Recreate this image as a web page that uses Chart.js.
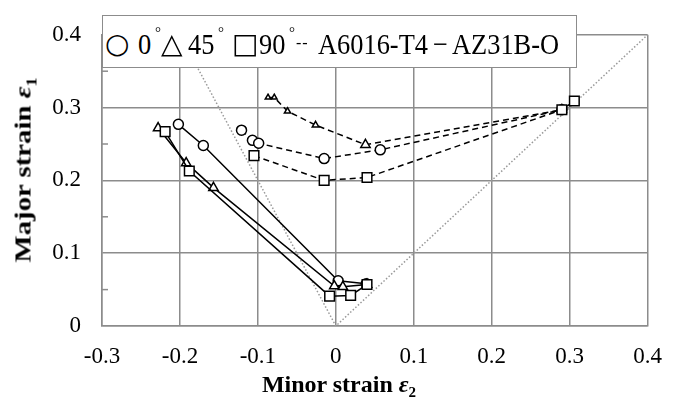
<!DOCTYPE html>
<html>
<head>
<meta charset="utf-8">
<script src="https://cdn.jsdelivr.net/npm/chart.js@4"></script>
<style>
  body { margin: 0; background: #fff; }
  #wrap { position: relative; width: 679px; height: 399px; font-family: "Liberation Serif", "Times New Roman", serif; color: #000; }
  #legend {
    position: absolute; left: 102px; top: 15px; width: 475px; height: 53px;
    box-sizing: border-box; border: 1.5px solid #8c8c8c; background: #fff; z-index: 2;
  }
  #legend span { position: absolute; top: 6px; font-size: 30px; line-height: 44px; white-space: nowrap; transform-origin: left center; }
  #legend .txt { transform: scaleX(0.88); }
  #legend .sym { font-family: "DejaVu Sans", sans-serif; font-size: 28px; top: 6px; }
  #legend .deg { font-size: 15px; top: -6px; }
  #legend .dash { font-size: 16px; top: 5px; letter-spacing: 1px; }
  .axis-title { position: absolute; font-weight: bold; font-size: 24px; white-space: nowrap; z-index: 2; }
  .axis-title sub { font-size: 15px; line-height: 0; }
  #xtitle { left: 339px; top: 384px; transform: translate(-50%, -50%); }
  #ytitle { left: 23px; top: 170px; transform: translate(-50%, -50%) rotate(-90deg) scaleX(1.2); }
</style>
</head>
<body>
<div id="wrap">
  <canvas id="grafica"></canvas>
  <div id="legend">
    <span class="sym" style="left:2px">○</span>
    <span class="txt" style="left:35px">0</span>
    <span class="deg" style="left:52px">°</span>
    <span class="sym" style="left:58px">△</span>
    <span class="txt" style="left:85px">45</span>
    <span class="deg" style="left:115px">°</span>
    <span class="sym" style="left:129px">□</span>
    <span class="txt" style="left:156px">90</span>
    <span class="deg" style="left:186px">°</span>
    <span class="dash" style="left:193px">--</span>
    <span class="txt" style="left:215px">A6016-T4</span>
    <span class="txt" style="left:330px">−</span>
    <span class="txt" style="left:349px">AZ31B-O</span>
  </div>
  <div class="axis-title" id="xtitle">Minor strain <i>ε</i><sub>2</sub></div>
  <div class="axis-title" id="ytitle">Major strain <i>ε</i><sub>1</sub></div>
</div>
<script>
// ejes
const xTicks = [-0.3, -0.2, -0.1, 0, 0.1, 0.2, 0.3, 0.4];
const yTicks = [0, 0.1, 0.2, 0.3, 0.4];
const yMinorTicks = [0.05, 0.15, 0.25, 0.35];

// A6016-T4 (linea discontinua)
const a6016_0_e2 = [-0.121, -0.107, -0.099, -0.015, 0.057, 0.290];
const a6016_0_e1 = [0.269, 0.255, 0.251, 0.230, 0.242, 0.297];
const a6016_45_e2 = [-0.087, -0.079, -0.062, -0.026, 0.038, 0.290];
const a6016_45_e1 = [0.314, 0.314, 0.295, 0.276, 0.249, 0.297];
const a6016_90_e2 = [-0.105, -0.015, 0.040, 0.290, 0.306];
const a6016_90_e1 = [0.234, 0.200, 0.204, 0.297, 0.309];

// AZ31B-O (linea continua)
const az31_0_e2 = [-0.202, -0.170, 0.003, 0.039];
const az31_0_e1 = [0.277, 0.248, 0.062, 0.058];
const az31_45_e2 = [-0.228, -0.192, -0.157, -0.002, 0.009, 0.040];
const az31_45_e1 = [0.272, 0.224, 0.190, 0.055, 0.054, 0.057];
const az31_90_e2 = [-0.219, -0.188, -0.008, 0.019, 0.040];
const az31_90_e1 = [0.267, 0.213, 0.041, 0.042, 0.057];

// lineas de referencia (e1 = -2 e2, e1 = e2)
const refE2 = [-0.2, 0, 0.4];
const refE1 = [0.4, 0, 0.4];

const pts = (xs, ys) => xs.map((x, i) => ({ x: x, y: ys[i] }));
const GRIS = "#8c8c8c";
const FUENTE = "'Liberation Serif', 'Times New Roman', serif";

function serie(xs, ys, estilo, radio, discontinua) {
  return {
    data: pts(xs, ys),
    showLine: true,
    borderColor: "#000",
    borderWidth: 1.5,
    borderDash: discontinua ? [6, 4] : [],
    pointStyle: estilo,
    pointRadius: radio,
    pointBorderWidth: 1.5,
    pointBorderColor: "#000",
    pointBackgroundColor: "#fff",
    pointHoverRadius: radio
  };
}

// marcas menores hacia adentro en el eje Y
const minorTicks = {
  id: "minorTicks",
  beforeDatasetsDraw(chart) {
    const { ctx, chartArea, scales: { y } } = chart;
    ctx.save();
    ctx.strokeStyle = GRIS;
    ctx.lineWidth = 1.5;
    yMinorTicks.forEach(v => {
      const py = y.getPixelForValue(v);
      ctx.beginPath();
      ctx.moveTo(chartArea.left, py);
      ctx.lineTo(chartArea.left + 6, py);
      ctx.stroke();
    });
    ctx.restore();
  }
};

new Chart(document.getElementById("grafica"), {
  type: "scatter",
  data: {
    datasets: [
      serie(a6016_90_e2, a6016_90_e1, "rect", 6.8, true),
      serie(az31_90_e2, az31_90_e1, "rect", 6.8, false),
      serie(a6016_45_e2, a6016_45_e1, "triangle", [3.2, 3.2, 3.6, 3.8, 5.4, 5.4], true),
      serie(az31_45_e2, az31_45_e1, "triangle", 5.4, false),
      serie(a6016_0_e2, a6016_0_e1, "circle", 5, true),
      serie(az31_0_e2, az31_0_e1, "circle", 5, false),
      {
        data: pts(refE2, refE1),
        showLine: true,
        borderColor: "#999",
        borderWidth: 1.5,
        borderDash: [1.5, 2],
        pointRadius: 0
      }
    ]
  },
  options: {
    responsive: true,
    maintainAspectRatio: false,
    animation: false,
    layout: { padding: { top: 15, right: 31, left: 0, bottom: 0 } },
    plugins: { legend: { display: false }, tooltip: { enabled: false } },
    scales: {
      x: {
        type: "linear",
        min: -0.3,
        max: 0.4,
        afterBuildTicks: s => { s.ticks = xTicks.map(v => ({ value: v })); },
        afterFit: s => { s.height = 73; },
        ticks: {
          callback: v => String(+v.toFixed(1)),
          font: { family: FUENTE, size: 23 },
          color: "#000",
          padding: 17,
          maxRotation: 0,
          autoSkip: false
        },
        grid: { color: GRIS, lineWidth: 1.5, drawTicks: false },
        border: { color: GRIS, width: 1.5 }
      },
      y: {
        type: "linear",
        min: 0,
        max: 0.4,
        afterBuildTicks: s => { s.ticks = yTicks.map(v => ({ value: v })); },
        afterFit: s => { s.width = 102; },
        ticks: {
          callback: v => String(+v.toFixed(1)),
          font: { family: FUENTE, size: 23 },
          color: "#000",
          padding: 21
        },
        grid: { color: GRIS, lineWidth: 1.5, drawTicks: false },
        border: { color: GRIS, width: 1.5 }
      }
    }
  },
  plugins: [minorTicks]
});
</script>
</body>
</html>
